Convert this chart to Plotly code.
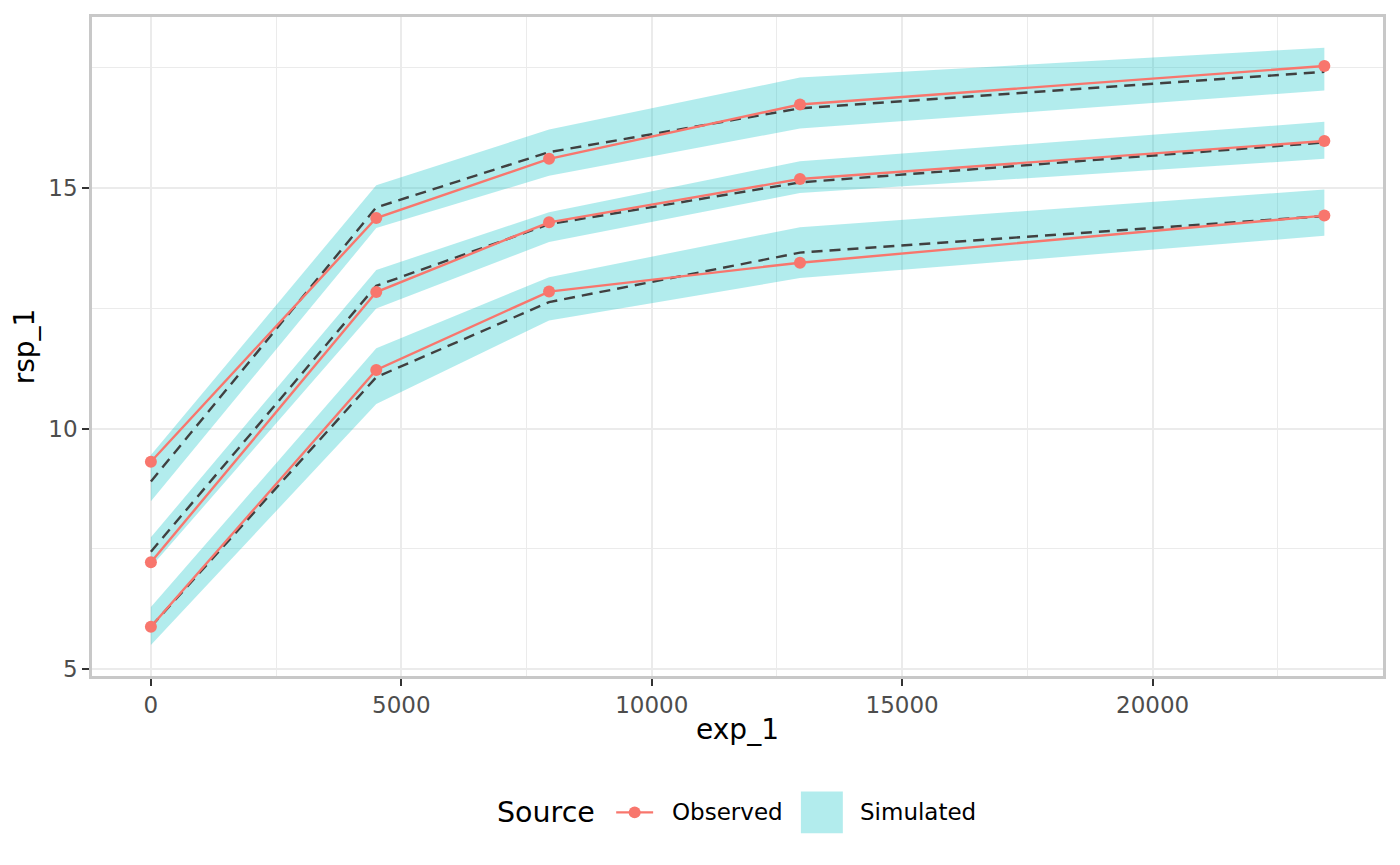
import plotly.graph_objects as go

# datos observados (percentiles 5, 50, 95)
exp_1 = [0, 4500, 7950, 12960, 23430]
obs_lo = [5.88, 11.22, 12.85, 13.45, 14.43]
obs_md = [7.22, 12.84, 14.29, 15.19, 15.98]
obs_hi = [9.31, 14.38, 15.61, 16.74, 17.54]

# mediana simulada
sim_lo = [5.88, 11.07, 12.63, 13.66, 14.42]
sim_md = [7.44, 12.97, 14.25, 15.12, 15.95]
sim_hi = [8.90, 14.60, 15.75, 16.66, 17.42]

# intervalos de confianza simulados
ci_lo_low = [5.50, 10.51, 12.25, 13.13, 14.01]
ci_lo_up = [6.29, 11.67, 13.15, 14.19, 14.97]
ci_md_low = [7.12, 12.50, 13.88, 14.90, 15.61]
ci_md_up = [7.74, 13.30, 14.50, 15.56, 16.38]
ci_hi_low = [8.49, 14.17, 15.26, 16.24, 17.03]
ci_hi_up = [9.45, 15.06, 16.22, 17.30, 17.92]

x_ticks = [0, 5000, 10000, 15000, 20000]
x_minor = [2500, 7500, 12500, 17500, 22500]
y_ticks = [5, 10, 15]
y_minor = [7.5, 12.5, 17.5]

obs_color = '#F8766D'
band_color = 'rgba(0,191,196,0.3)'
font_fam = 'DejaVu Sans'

fig = go.Figure()

# bandas simuladas
bands = [(ci_lo_low, ci_lo_up), (ci_md_low, ci_md_up), (ci_hi_low, ci_hi_up)]
for low, up in bands:
    fig.add_trace(go.Scatter(
        x=exp_1 + exp_1[::-1], y=low + up[::-1],
        fill='toself', fillcolor=band_color, line=dict(width=0),
        mode='lines', name='Simulated', showlegend=False, hoverinfo='skip'))

# medianas simuladas
for serie in [sim_lo, sim_md, sim_hi]:
    fig.add_trace(go.Scatter(
        x=exp_1, y=serie, mode='lines',
        line=dict(color='#404040', width=2.4, dash='11px,7px'),
        showlegend=False))

# observados
for serie in [obs_lo, obs_md, obs_hi]:
    fig.add_trace(go.Scatter(
        x=exp_1, y=serie, mode='lines+markers', name='Observed',
        line=dict(color=obs_color, width=2.4),
        marker=dict(color=obs_color, size=12),
        showlegend=False))

# leyenda manual (estilo ggplot) en coordenadas de papel
W, H = 1293.0, 662.0
def px(x):
    return (x - 92) / W
def py(y):
    return (676 - y) / H

yc = 813
shapes = [
    dict(type='line', xref='paper', yref='paper', x0=px(617), x1=px(654), y0=py(yc), y1=py(yc),
         line=dict(color=obs_color, width=2.4)),
    dict(type='circle', xref='paper', yref='paper', x0=px(629.5), x1=px(641.5), y0=py(yc - 6), y1=py(yc + 6),
         fillcolor=obs_color, line=dict(width=0)),
    dict(type='rect', xref='paper', yref='paper', x0=px(802), x1=px(844), y0=py(792), y1=py(834),
         fillcolor=band_color, line=dict(width=0)),
]
annotations = [
    dict(text='Source', x=px(496), y=py(yc), xref='paper', yref='paper', xanchor='left', yanchor='middle',
         showarrow=False, font=dict(size=28.5, color='black', family=font_fam)),
    dict(text='Observed', x=px(671), y=py(yc), xref='paper', yref='paper', xanchor='left', yanchor='middle',
         showarrow=False, font=dict(size=23, color='black', family=font_fam)),
    dict(text='Simulated', x=px(859), y=py(yc), xref='paper', yref='paper', xanchor='left', yanchor='middle',
         showarrow=False, font=dict(size=23, color='black', family=font_fam)),
]

grid = '#EBEBEB'
fig.update_layout(
    width=1384, height=849,
    paper_bgcolor='white', plot_bgcolor='white',
    margin=dict(l=84, r=7, t=6, b=181),
    font=dict(family=font_fam, color='black'),
    showlegend=False,
    shapes=shapes, annotations=annotations,
)
fig.update_xaxes(
    title=dict(text='exp_1', font=dict(size=28), standoff=3),
    range=[-1176, 24601], tickvals=x_ticks, ticktext=[str(v) for v in x_ticks],
    ticks='outside', ticklen=7, tickwidth=2, tickcolor='#333333',
    tickfont=dict(size=23, color='#4D4D4D'),
    showgrid=True, gridcolor=grid, gridwidth=2,
    minor=dict(tickvals=x_minor, showgrid=True, gridcolor=grid, gridwidth=1, ticks=''),
    zeroline=False, showline=True, linecolor='#C8C8C8', linewidth=2.5, mirror=True)
fig.update_yaxes(
    title=dict(text='rsp_1', font=dict(size=28), standoff=6),
    range=[4.855, 18.56], tickvals=y_ticks, ticktext=[str(v) for v in y_ticks],
    ticks='outside', ticklen=7, tickwidth=2, tickcolor='#333333',
    tickfont=dict(size=23, color='#4D4D4D'),
    showgrid=True, gridcolor=grid, gridwidth=2,
    minor=dict(tickvals=y_minor, showgrid=True, gridcolor=grid, gridwidth=1, ticks=''),
    zeroline=False, showline=True, linecolor='#C8C8C8', linewidth=2.5, mirror=True)

fig.write_html("out.html")
